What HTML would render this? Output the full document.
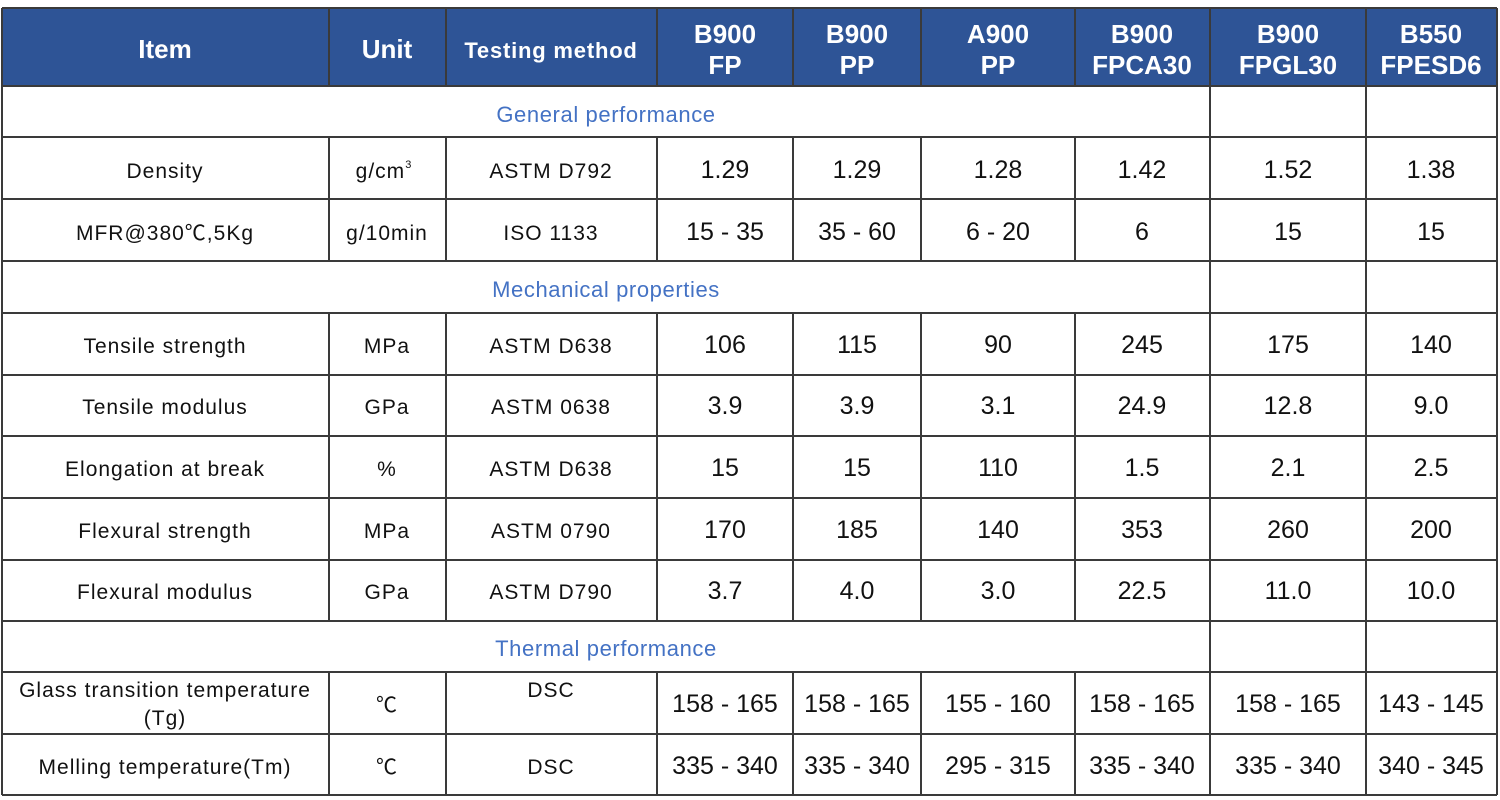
<!DOCTYPE html>
<html><head><meta charset="utf-8"><style>
html,body{margin:0;padding:0;background:#fff;width:1500px;height:800px;overflow:hidden}
svg text{font-family:"Liberation Sans","Noto Sans CJK SC",sans-serif}
</style></head><body>
<svg width="1500" height="800" xmlns="http://www.w3.org/2000/svg">
<rect x="2" y="8" width="1495" height="78" fill="#2e5496"/>
<g stroke="#3a3a3a" stroke-width="2" fill="none">
<line x1="2" y1="8" x2="1497" y2="8"/>
<line x1="2" y1="86" x2="1497" y2="86"/>
<line x1="2" y1="137" x2="1497" y2="137"/>
<line x1="2" y1="199" x2="1497" y2="199"/>
<line x1="2" y1="261" x2="1497" y2="261"/>
<line x1="2" y1="313" x2="1497" y2="313"/>
<line x1="2" y1="375" x2="1497" y2="375"/>
<line x1="2" y1="436" x2="1497" y2="436"/>
<line x1="2" y1="498" x2="1497" y2="498"/>
<line x1="2" y1="560" x2="1497" y2="560"/>
<line x1="2" y1="621" x2="1497" y2="621"/>
<line x1="2" y1="672" x2="1497" y2="672"/>
<line x1="2" y1="734" x2="1497" y2="734"/>
<line x1="2" y1="795" x2="1497" y2="795"/>
<line x1="2" y1="8" x2="2" y2="795"/>
<line x1="1497" y1="8" x2="1497" y2="795"/>
<line x1="1210" y1="8" x2="1210" y2="795"/>
<line x1="1366" y1="8" x2="1366" y2="795"/>
</g>
<g stroke="#3a3a3a" stroke-width="2">
<path d="M329 8V86M446 8V86M657 8V86M793 8V86M921 8V86M1075 8V86"/>
<path d="M329 137V261M446 137V261M657 137V261M793 137V261M921 137V261M1075 137V261"/>
<path d="M329 313V621M446 313V621M657 313V621M793 313V621M921 313V621M1075 313V621"/>
<path d="M329 672V795M446 672V795M657 672V795M793 672V795M921 672V795M1075 672V795"/>
</g>
<g fill="#fff" font-weight="bold" text-anchor="middle" font-size="26">
<text x="165" y="58">Item</text>
<text x="387" y="58">Unit</text>
<text x="551" y="58" font-size="22" letter-spacing="0.8">Testing method</text>
<text x="725" y="43">B900</text><text x="725" y="74">FP</text>
<text x="857" y="43">B900</text><text x="857" y="74">PP</text>
<text x="998" y="43">A900</text><text x="998" y="74">PP</text>
<text x="1142" y="43">B900</text><text x="1142" y="74">FPCA30</text>
<text x="1288" y="43">B900</text><text x="1288" y="74">FPGL30</text>
<text x="1431" y="43">B550</text><text x="1431" y="74">FPESD6</text>
</g>
<g fill="#4472c4" font-size="22" text-anchor="middle" letter-spacing="0.6">
<text x="606" y="122">General performance</text>
<text x="606" y="297">Mechanical properties</text>
<text x="606" y="656">Thermal performance</text>
</g>
<g fill="#111" font-size="21" text-anchor="middle" letter-spacing="1">
<text x="165" y="178">Density</text><text x="384" y="178">g/cm<tspan font-size="11" dy="-10">3</tspan></text><text x="551" y="178">ASTM D792</text>
<text x="165" y="240">MFR@380℃,5Kg</text><text x="387" y="240">g/10min</text><text x="551" y="240">ISO 1133</text>
<text x="165" y="353">Tensile strength</text><text x="387" y="353">MPa</text><text x="551" y="353">ASTM D638</text>
<text x="165" y="414">Tensile modulus</text><text x="387" y="414">GPa</text><text x="551" y="414">ASTM 0638</text>
<text x="165" y="476">Elongation at break</text><text x="387" y="476">%</text><text x="551" y="476">ASTM D638</text>
<text x="165" y="538">Flexural strength</text><text x="387" y="538">MPa</text><text x="551" y="538">ASTM 0790</text>
<text x="165" y="599">Flexural modulus</text><text x="387" y="599">GPa</text><text x="551" y="599">ASTM D790</text>
<text x="165" y="697">Glass transition temperature</text><text x="165" y="725">(Tg)</text><text x="387" y="712">℃</text><text x="551" y="697">DSC</text>
<text x="165" y="774">Melling temperature(Tm)</text><text x="387" y="774">℃</text><text x="551" y="774">DSC</text>
</g>
<g fill="#111" font-size="25" text-anchor="middle">
<text x="725" y="178">1.29</text><text x="857" y="178">1.29</text><text x="998" y="178">1.28</text><text x="1142" y="178">1.42</text><text x="1288" y="178">1.52</text><text x="1431" y="178">1.38</text>
<text x="725" y="240">15 - 35</text><text x="857" y="240">35 - 60</text><text x="998" y="240">6 - 20</text><text x="1142" y="240">6</text><text x="1288" y="240">15</text><text x="1431" y="240">15</text>
<text x="725" y="353">106</text><text x="857" y="353">115</text><text x="998" y="353">90</text><text x="1142" y="353">245</text><text x="1288" y="353">175</text><text x="1431" y="353">140</text>
<text x="725" y="414">3.9</text><text x="857" y="414">3.9</text><text x="998" y="414">3.1</text><text x="1142" y="414">24.9</text><text x="1288" y="414">12.8</text><text x="1431" y="414">9.0</text>
<text x="725" y="476">15</text><text x="857" y="476">15</text><text x="998" y="476">110</text><text x="1142" y="476">1.5</text><text x="1288" y="476">2.1</text><text x="1431" y="476">2.5</text>
<text x="725" y="538">170</text><text x="857" y="538">185</text><text x="998" y="538">140</text><text x="1142" y="538">353</text><text x="1288" y="538">260</text><text x="1431" y="538">200</text>
<text x="725" y="599">3.7</text><text x="857" y="599">4.0</text><text x="998" y="599">3.0</text><text x="1142" y="599">22.5</text><text x="1288" y="599">11.0</text><text x="1431" y="599">10.0</text>
<text x="725" y="712">158 - 165</text><text x="857" y="712">158 - 165</text><text x="998" y="712">155 - 160</text><text x="1142" y="712">158 - 165</text><text x="1288" y="712">158 - 165</text><text x="1431" y="712">143 - 145</text>
<text x="725" y="774">335 - 340</text><text x="857" y="774">335 - 340</text><text x="998" y="774">295 - 315</text><text x="1142" y="774">335 - 340</text><text x="1288" y="774">335 - 340</text><text x="1431" y="774">340 - 345</text>
</g>
</svg>
</body></html>
